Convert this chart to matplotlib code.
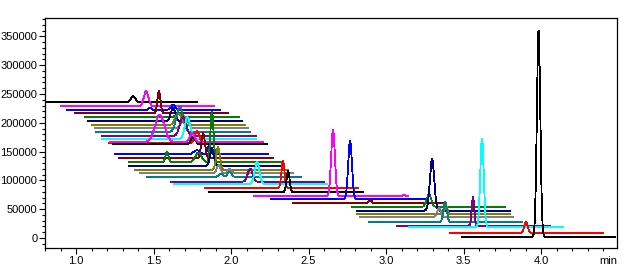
import numpy as np
import matplotlib
matplotlib.use("Agg")
import matplotlib.pyplot as plt
from matplotlib.ticker import MultipleLocator
import matplotlib.transforms as mtransforms

# overlay of 37 chromatograms, each one shifted right and down
palette = ['#000000', '#FF00FF', '#0000FF', '#800000', '#008000', '#000080',
           '#808000', '#808080', '#008080', '#800080', '#00FFFF', '#FF0000']

# start time (min) and baseline level of each trace
t_start = [0.79, 0.90, 0.94, 0.99, 1.06, 1.08, 1.10, 1.12, 1.13, 1.17,
           1.17, 1.21, 1.24, 1.22, 1.25, 1.28, 1.34, 1.34, 1.38, 1.41,
           1.46, 1.61, 1.63, 1.83, 1.86, 2.15, 2.26, 2.40, 2.78, 2.81,
           2.81, 2.83, 2.89, 3.07, 3.15, 3.41, 3.49]
baseline = [235600, 228600, 222200, 216500, 210000, 202600, 195700, 190500,
            183600, 177100, 171300, 164400, 162700, 166700, 145300, 138400,
            131400, 125000, 118000, 112300, 106400, 97700, 93700, 86300,
            79300, 72400, 67700, 60200, 53800, 47400, 41100, 36500, 27300,
            21400, 19100, 8700, 1200]
run_length = 0.99

# peaks: trace index, retention time, height, width (sigma)
peak_trace = [0, 1, 2, 2, 3, 4, 5, 6, 7, 8, 9, 10, 11, 12, 13, 13, 14, 14,
              15, 16, 16, 16, 17, 18, 19, 19, 20, 20, 21, 22, 23, 24, 25, 25,
              26, 27, 28, 29, 30, 31, 32, 33, 34, 35, 36]
peak_time = [1.368, 1.452, 1.477, 1.626, 1.535, 1.660, 1.626, 1.660, 1.700,
             1.670, 1.690, 1.720, 1.780, 1.755, 1.540, 1.750, 1.780, 1.858,
             1.820, 1.587, 1.790, 1.877, 1.877, 1.916, 1.920, 1.990, 1.935,
             1.990, 2.123, 2.168, 2.335, 2.368, 2.658, 3.116, 2.768, 2.897,
             3.277, 3.297, 3.387, 3.342, 3.381, 3.561, 3.619, 3.903, 3.984]
peak_height = [10400, 26000, 3500, 8700, 38200, 7000, 22600, 20800, 20800,
               43400, 33000, 38200, 20800, 12000, 47000, 15000, 7000, 14000,
               43400, 17400, 17000, 88500, 31000, 40000, 14000, 7000, 5000,
               8500, 22600, 38200, 46900, 36500, 115000, 2500, 100700, 6000,
               22000, 90000, 15000, 15000, 36000, 50000, 154000, 19000, 358600]
peak_width = [0.015, 0.015, 0.010, 0.015, 0.010, 0.015, 0.015, 0.020, 0.020,
              0.022, 0.020, 0.018, 0.015, 0.015, 0.030, 0.015, 0.020, 0.010,
              0.012, 0.010, 0.020, 0.010, 0.012, 0.012, 0.012, 0.012, 0.012,
              0.012, 0.015, 0.015, 0.010, 0.010, 0.012, 0.010, 0.012, 0.010,
              0.015, 0.014, 0.010, 0.012, 0.011, 0.008, 0.011, 0.011, 0.011]

fig = plt.figure(figsize=(6.42, 2.65), dpi=100)
ax = fig.add_axes([45 / 642, 17 / 265, 572 / 642, 230 / 265])

for i in range(len(baseline)):
    t = np.linspace(t_start[i], t_start[i] + run_length, 800)
    y = np.full_like(t, float(baseline[i]))
    for k in range(len(peak_trace)):
        if peak_trace[k] == i:
            y += peak_height[k] * np.exp(-0.5 * ((t - peak_time[k]) / peak_width[k]) ** 2)
    ax.plot(t, y, color=palette[i % 12], lw=0.6, antialiased=False)

ax.set_xlim(0.80, 4.49)
ax.set_ylim(-17400, 382000)
ax.xaxis.set_major_locator(MultipleLocator(0.5))
ax.xaxis.set_minor_locator(MultipleLocator(0.1))
ax.yaxis.set_major_locator(MultipleLocator(50000))
ax.yaxis.set_minor_locator(MultipleLocator(10000))
ax.xaxis.set_major_formatter(matplotlib.ticker.FormatStrFormatter('%.1f'))

for s in ax.spines.values():
    s.set_linewidth(0.9)
ax.tick_params(which='major', length=4, width=0.8, pad=1.5, labelsize=8)
ax.tick_params(which='minor', length=2, width=0.8)
for lab in ax.get_xticklabels() + ax.get_yticklabels():
    lab.set_fontfamily('Liberation Sans')

trans = mtransforms.blended_transform_factory(ax.transData, ax.transAxes)
ax.text(4.435, -0.035, 'min', transform=trans, ha='center', va='top',
        fontsize=8, family='Liberation Sans')

fig.savefig('out.png', dpi=100)
